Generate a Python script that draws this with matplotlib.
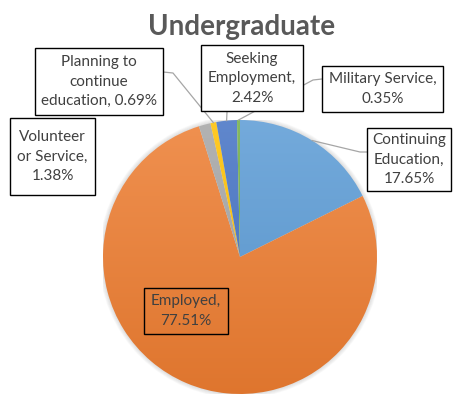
import matplotlib.pyplot as plt
import numpy as np
from matplotlib.patches import Rectangle, Circle
from matplotlib.colors import to_rgb

# data
categories = ["Continuing Education", "Employed", "Volunteer or Service",
              "Planning to continue education", "Seeking Employment", "Military Service"]
values = [17.65, 77.51, 1.38, 0.69, 2.42, 0.35]
label_lines = [["Continuing", "Education,", "17.65%"],
               ["Employed,", "77.51%"],
               ["Volunteer", "or Service,", "1.38%"],
               ["Planning to", "continue", "education, 0.69%"],
               ["Seeking", "Employment,", "2.42%"],
               ["Military Service,", "0.35%"]]
colors = ["#5B9BD5", "#ED7D31", "#A5A5A5", "#FFC000", "#4472C4", "#70AD47"]

W, H = 462, 405
cx, cy, R = 240, 257, 137   # pie centre / radius in pixels

# label boxes in pixels (x0, y0, x1, y1), y from top
boxes = [(367, 128, 451, 191),
         (144, 288, 228, 334),
         (10, 118, 95, 195),
         (35, 48, 163, 115),
         (201, 45, 303, 111),
         (322, 66, 443, 112)]
# leader line points on the box side (pixels), None = no leader
leaders = [[(367, 152), (360, 152)],
           None,
           None,
           [(163, 72), (173, 73)],
           [(227, 112)],
           [(322, 79), (313, 80)]]

plt.rcParams['font.family'] = ['Lato', 'DejaVu Sans']

fig = plt.figure(figsize=(W / 100, H / 100), dpi=100)
ax = fig.add_axes([(cx - R) / W, (H - cy - R) / H, 2 * R / W, 2 * R / H])

# soft shadow
for i in range(5):
    ax.add_patch(Circle((0, 0), 1 + 0.006 * (i + 1), color="#808080",
                        alpha=0.05, lw=0, zorder=0))

wedges, _ = ax.pie(values, startangle=90, counterclock=False, colors=colors,
                   wedgeprops=dict(linewidth=0))

# vertical gradient fill per slice
for w, c in zip(wedges, colors):
    c = np.array(to_rgb(c))
    top = c + (1 - c) * 0.15
    bot = c * 0.94
    t = np.linspace(0, 1, 256)[:, None, None]
    grad = top * (1 - t) + bot * t
    im = ax.imshow(grad, extent=(-1, 1, -1, 1), origin='upper',
                   interpolation='bilinear', zorder=2)
    im.set_clip_path(w)
    w.set_facecolor('none')

ax.set_xlim(-1, 1)
ax.set_ylim(-1, 1)
ax.axis('off')


def to_data(p):
    return ((p[0] - cx) / R, (cy - p[1]) / R)


# leader lines
for w, pts in zip(wedges, leaders):
    if pts is None:
        continue
    ang = np.deg2rad((w.theta1 + w.theta2) / 2)
    end = (np.cos(ang), np.sin(ang))
    xy = [to_data(p) for p in pts] + [end]
    xs, ys = zip(*xy)
    ax.plot(xs, ys, color="#A6A6A6", lw=0.9, clip_on=False, zorder=3)

# label boxes
for i, (b, lines) in enumerate(zip(boxes, label_lines)):
    x0, y0, x1, y1 = b
    fc = 'none' if i == 1 else 'white'
    fig.add_artist(Rectangle((x0 / W, 1 - y1 / H), (x1 - x0) / W, (y1 - y0) / H,
                             transform=fig.transFigure, facecolor=fc,
                             edgecolor='black', lw=1.0, zorder=5))
    fig.text((x0 + x1) / 2 / W, 1 - (y0 + y1) / 2 / H, "\n".join(lines),
             ha='center', va='center', ma='center', fontsize=11,
             color="#404040", linespacing=1.5, zorder=6)

fig.text(242 / W, 1 - 27 / H, "Undergraduate", ha='center', va='center',
         fontsize=20, fontweight='bold', color="#595959")

fig.savefig("out.png", dpi=100)
